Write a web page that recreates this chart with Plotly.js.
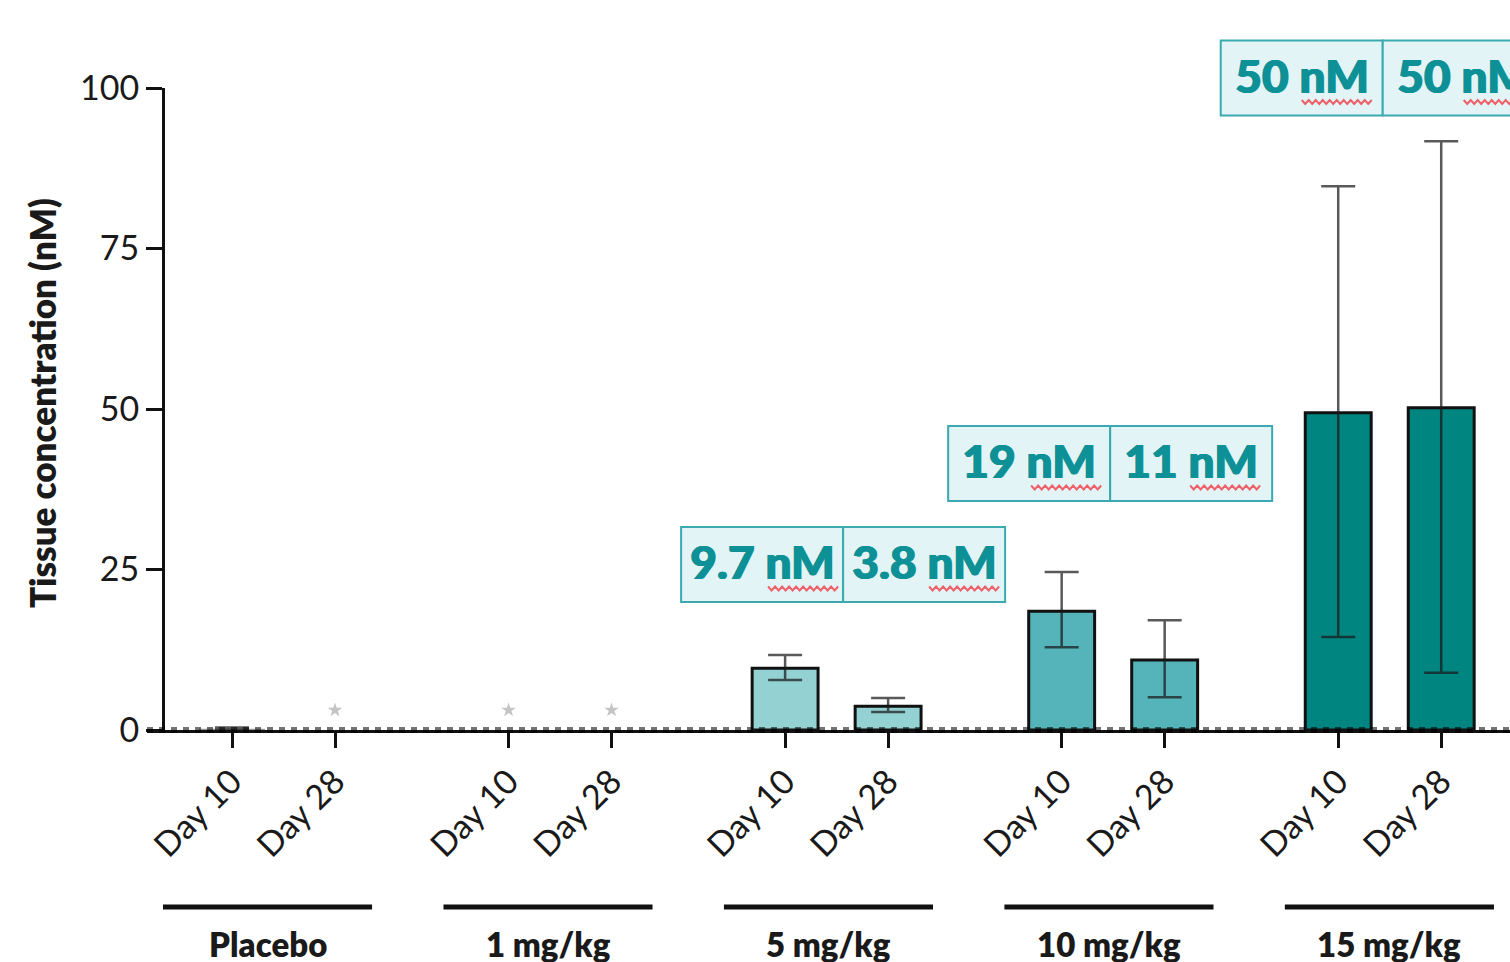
<!DOCTYPE html>
<html>
<head>
<meta charset="utf-8">
<script src="https://cdn.plot.ly/plotly-3.0.1.min.js"></script>
<style>
  html, body { margin: 0; padding: 0; background: #fff; }
  #chart { width: 1510px; height: 962px; }
</style>
</head>
<body>
<div id="chart"></div>
<script>
// ---------------- DATA ----------------
const groups = ['Placebo', '1 mg/kg', '5 mg/kg', '10 mg/kg', '15 mg/kg'];
const days = ['Day 10', 'Day 28'];
// mean tissue concentration (nM), order: group x day
const meanConc = [0.2, null, null, null, 9.6, 3.7, 18.5, 10.9, 49.4, 50.2];
const errPlus  = [0.2, null, null, null, 2.1, 1.3, 6.1, 6.2, 35.3, 41.5];
const errMinus = [0.2, null, null, null, 1.8, 0.9, 5.6, 5.8, 34.9, 41.3];
// below-limit markers (grey stars)
const blqY = [null, 3.1, 3.1, 3.1, null, null, null, null, null, null];
// labels in boxes above groups
const boxGroups = [2, 3, 4];
const boxLabels = [['9.7 nM', '3.8 nM'], ['19 nM', '11 nM'], ['50 nM', '50 nM']];
const yTicks = [0, 25, 50, 75, 100];

// ---------------- STYLE / LAYOUT CONSTANTS ----------------
const groupColors = ['#9a9a9a', '#cccccc', '#93D1D3', '#55B4BA', '#008581'];
const GROUP_STEP = 2.685;
const FONT = 'Lato, "Open Sans", sans-serif';
const W = 1510, H = 962;
const M = {l: 147, r: 0, t: 88, b: 232};
const PX_PER_UNIT = 103;
const X0_PX = 232; // pixel of x = 0
const xRange = [(M.l - X0_PX) / PX_PER_UNIT, (W - M.r - X0_PX) / PX_PER_UNIT];
const plotW = W - M.l - M.r, plotH = H - M.t - M.b;
const pxToPaperX = px => (px - M.l) / plotW;
const pyToPaperY = py => (H - M.b - py) / plotH;

const xPos = [], tickText = [], barColors = [], barLineW = [];
groups.forEach((g, gi) => {
  days.forEach((d, di) => {
    xPos.push(gi * GROUP_STEP + di);
    tickText.push(d);
    barColors.push(groupColors[gi]);
    barLineW.push(gi === 0 ? 0 : 3);
  });
});

const traces = [
  {
    type: 'bar',
    x: xPos,
    y: meanConc,
    width: 0.64,
    marker: {color: barColors, line: {color: '#111', width: barLineW}},
    error_y: {
      type: 'data', symmetric: false,
      array: errPlus, arrayminus: errMinus,
      color: 'rgba(25,25,25,0.72)', thickness: 2.5, width: 17
    },
    hoverinfo: 'x+y',
    showlegend: false
  },
  {
    type: 'scatter',
    mode: 'markers',
    x: xPos,
    y: blqY,
    marker: {symbol: 'star', size: 11, color: '#c4c4c4', line: {width: 0}},
    showlegend: false,
    cliponaxis: false
  }
];

const shapes = [];
const annotations = [];

// dotted overlay on the zero baseline
shapes.push({
  type: 'line', xref: 'paper', yref: 'paper', x0: 0, x1: 1, y0: 0, y1: 0,
  line: {color: 'rgba(0,0,0,0.55)', width: 6, dash: 'dot'}, layer: 'above'
});

// group bars and labels under the axis
const LINE_STEP = 2.723, LINE_START = -0.67, LINE_LEN = 2.03;
groups.forEach((g, gi) => {
  const x0 = LINE_START + gi * LINE_STEP;
  shapes.push({
    type: 'line', xref: 'x', yref: 'paper',
    x0: x0, x1: x0 + LINE_LEN, y0: pyToPaperY(907), y1: pyToPaperY(907),
    line: {color: '#111', width: 5}
  });
  annotations.push({
    xref: 'x', yref: 'paper', x: x0 + LINE_LEN / 2, y: pyToPaperY(944),
    text: g, showarrow: false,
    font: {family: FONT, size: 33, color: '#1a1a1a', weight: 800},
    xanchor: 'center', yanchor: 'middle'
  });
});

// y axis title
annotations.push({
  xref: 'paper', yref: 'paper', x: pxToPaperX(42), y: pyToPaperY(403),
  text: 'Tissue concentration (nM)', textangle: -90, showarrow: false,
  font: {family: FONT, size: 35, color: '#1a1a1a', weight: 800},
  xanchor: 'center', yanchor: 'middle'
});

// value boxes (rect shapes + squiggles + text annotations)
const boxCenterPY = [564.5, 463.5, 78];
const boxShiftPX = [6.5, -3, -7];
const CELL_W_PX = 162, CELL_H_PX = 75;
const squiggleSpan = [[6, 79], [5, 77], [2, 74], [-1, 71], [0, 73], [0, 73]];
const TEAL_TEXT = '#0E9196';
let cellIdx = 0;
boxGroups.forEach((gi, bi) => {
  const groupCenter = gi * GROUP_STEP + 0.5;
  const cPx = X0_PX + groupCenter * PX_PER_UNIT + boxShiftPX[bi];
  const cy = boxCenterPY[bi];
  boxLabels[bi].forEach((lab, ci) => {
    const cellPx = cPx + (ci === 0 ? -CELL_W_PX / 2 : CELL_W_PX / 2);
    shapes.push({
      type: 'rect', xref: 'paper', yref: 'paper',
      x0: pxToPaperX(cellPx - CELL_W_PX / 2), x1: pxToPaperX(cellPx + CELL_W_PX / 2),
      y0: pyToPaperY(cy - CELL_H_PX / 2), y1: pyToPaperY(cy + CELL_H_PX / 2),
      fillcolor: '#E2F4F5', line: {color: '#3AAAB0', width: 2}, layer: 'above'
    });
    // red spell-check squiggle under "nM"
    const sp = squiggleSpan[cellIdx++];
    const baseY = cy + 24;
    let path = '';
    let k = 0;
    for (let px = cellPx + sp[0]; px <= cellPx + sp[1]; px += 3.5, k++) {
      const py = baseY + (k % 2 === 0 ? -2 : 2);
      path += (k === 0 ? 'M' : 'L') + pxToPaperX(px).toFixed(5) + ',' + pyToPaperY(py).toFixed(5);
    }
    shapes.push({
      type: 'path', xref: 'paper', yref: 'paper', path: path,
      line: {color: 'rgba(240,70,80,0.85)', width: 2}, layer: 'above'
    });
    annotations.push({
      xref: 'paper', yref: 'paper',
      x: pxToPaperX(cellPx), y: pyToPaperY(cy - 3),
      text: lab, showarrow: false,
      font: {family: FONT, size: 46, color: TEAL_TEXT, weight: 900,
             shadow: '1px 0 0 ' + TEAL_TEXT + ', -0.5px 0 0 ' + TEAL_TEXT},
      xanchor: 'center', yanchor: 'middle', align: 'center'
    });
  });
});

const layout = {
  width: W, height: H,
  margin: M,
  paper_bgcolor: '#fff', plot_bgcolor: '#fff',
  font: {family: FONT, color: '#1a1a1a'},
  showlegend: false,
  bargap: 0,
  xaxis: {
    range: xRange, fixedrange: true,
    tickmode: 'array', tickvals: xPos, ticktext: tickText,
    tickangle: -45,
    ticks: 'outside', ticklen: 15, tickwidth: 3, tickcolor: '#111',
    tickfont: {family: FONT, size: 34, color: '#1a1a1a'},
    showline: true, linecolor: '#111', linewidth: 3,
    showgrid: false, zeroline: false
  },
  yaxis: {
    range: [0, 100], fixedrange: true,
    anchor: 'free', position: pxToPaperX(163),
    tickmode: 'array', tickvals: yTicks,
    ticks: 'outside', ticklen: 16, tickwidth: 3, tickcolor: '#111',
    tickfont: {family: FONT, size: 34, color: '#1a1a1a'},
    showline: true, linecolor: '#111', linewidth: 3,
    showgrid: false, zeroline: false
  },
  shapes: shapes,
  annotations: annotations
};

Plotly.newPlot('chart', traces, layout, {displayModeBar: false, staticPlot: true});
</script>
</body>
</html>
